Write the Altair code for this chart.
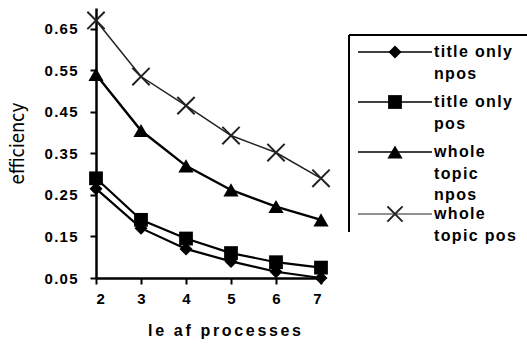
import altair as alt
import pandas as pd

# ---- data ----
processes = [2, 3, 4, 5, 6, 7]
series_names = ["title only npos", "title only pos", "whole topic npos", "whole topic pos"]
title_only_npos = [0.265, 0.17, 0.12, 0.09, 0.065, 0.05]
title_only_pos = [0.29, 0.19, 0.145, 0.11, 0.088, 0.075]
whole_topic_npos = [0.54, 0.405, 0.32, 0.262, 0.222, 0.19]
whole_topic_pos = [0.67, 0.535, 0.465, 0.393, 0.352, 0.29]
legend_lines = [["title only", "npos"], ["title only", "pos"],
                ["whole", "topic", "npos"], ["whole", "topic pos"]]
y_ticks = [0.05, 0.15, 0.25, 0.35, 0.45, 0.55, 0.65]

values = [title_only_npos, title_only_pos, whole_topic_npos, whole_topic_pos]
rows = []
for name, vals in zip(series_names, values):
    for x, v in zip(processes, vals):
        rows.append({"series": name, "processes": x, "efficiency": v})
df = pd.DataFrame(rows)

XPATH = "M-1,-1L1,1M-1,1L1,-1"
styles = {
    "title only npos": dict(shape="diamond", size=170, filled=True, color="black", sw=2.2),
    "title only pos": dict(shape="square", size=190, filled=True, color="black", sw=2.2),
    "whole topic npos": dict(shape="triangle-up", size=230, filled=True, color="black", sw=2.4),
    "whole topic pos": dict(shape=XPATH, size=300, filled=False, color="#222222", sw=1.5),
}

FONT = "Liberation Sans"
SP = "\u2006"
HS = "\u200a"

def spaced(s, sep=SP):
    return sep.join(list(s))

axis_common = dict(grid=False, domainColor="black", domainWidth=2.5, tickColor="black",
                   tickWidth=2, tickSize=6, labelFont=FONT, labelFontWeight="bold",
                   labelFontSize=15, labelColor="#000000", titleColor="#000000",
                   labelExpr="join(split(datum.label, ''), '\u200a')")

xenc = alt.X("processes:Q", scale=alt.Scale(domain=[2, 7], nice=False, zero=False),
             axis=alt.Axis(values=processes, format="d", title=spaced("le af processes"),
                           titleFontSize=16, titleFontWeight="bold", titleFont=FONT,
                           titlePadding=16, titleX=128, labelPadding=7, **axis_common))
yenc = alt.Y("efficiency:Q", scale=alt.Scale(domain=[0.05, 0.70], nice=False, zero=False),
             axis=alt.Axis(values=y_ticks, format=".2f", title="efficiency",
                           titleFont="Liberation Sans Narrow, DejaVu Sans Condensed, Liberation Sans",
                           titleFontWeight="normal", titleFontSize=19, titlePadding=17,
                           labelPadding=13, **axis_common))

layers = []
for name in series_names:
    st = styles[name]
    base = alt.Chart(df).transform_filter(alt.datum.series == name)
    layers.append(base.mark_line(color=st["color"], strokeWidth=st["sw"]).encode(x=xenc, y=yenc))
    layers.append(base.mark_point(shape=st["shape"], size=st["size"], filled=st["filled"],
                                  color=st["color"], strokeWidth=2 if not st["filled"] else 1,
                                  opacity=1).encode(x=xenc, y=yenc))

# ---- custom legend (layout positions in pixels) ----
leg_y = [44, 94, 144, 206]
leg = pd.DataFrame({"series": series_names,
                    "label": [[spaced(t, HS) for t in l] for l in legend_lines],
                    "ly": leg_y})

for name in series_names:
    st = styles[name]
    b = alt.Chart(leg).transform_filter(alt.datum.series == name)
    layers.append(b.mark_rule(color=st["color"], strokeWidth=1.6 if st["filled"] else 1.2).encode(
        x=alt.value(262), x2=alt.value(336),
        y=alt.Y("ly:Q", scale=None, axis=None)))
    layers.append(b.mark_point(shape=st["shape"], size=st["size"] if st["filled"] else 230,
                               filled=st["filled"],
                               color=st["color"], strokeWidth=2 if not st["filled"] else 1,
                               opacity=1).encode(
        x=alt.value(299), y=alt.Y("ly:Q", scale=None, axis=None)))

layers.append(alt.Chart(leg).mark_text(align="left", baseline="middle", font=FONT,
                                       fontWeight="bold", fontSize=16, lineHeight=21.5,
                                       color="black").encode(
    x=alt.value(338), y=alt.Y("ly:Q", scale=None, axis=None), text="label"))

# legend frame (top and left edges)
layers.append(alt.Chart(leg).mark_rule(color="black", strokeWidth=2).encode(
    x=alt.value(253), x2=alt.value(440), y=alt.value(27)))
layers.append(alt.Chart(leg).mark_rule(color="black", strokeWidth=2).encode(
    x=alt.value(253), y=alt.value(27), y2=alt.value(224)))

chart = alt.layer(*layers).properties(
    width=225, height=270,
    background="white",
    autosize=alt.AutoSizeParams(type="none"),
    padding={"left": 96, "top": 8, "right": 206, "bottom": 69},
).configure_view(stroke=None)

chart.save("out.html", embed_options={"renderer": "svg", "actions": False})
